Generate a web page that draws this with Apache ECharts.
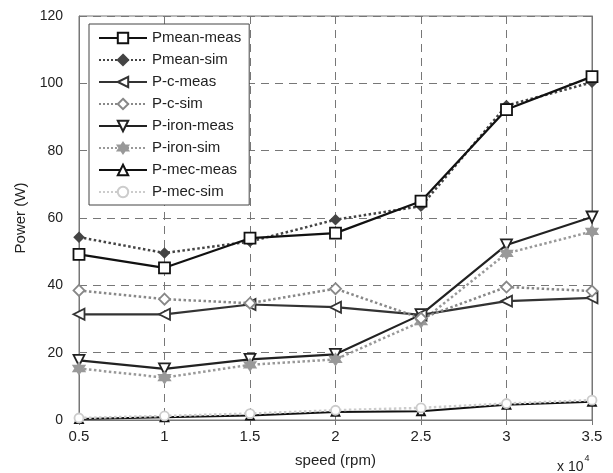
<!DOCTYPE html>
<html><head><meta charset="utf-8">
<script src="https://cdn.jsdelivr.net/npm/echarts@6/dist/echarts.min.js"></script>
<style>html,body{margin:0;padding:0;background:#fff}#c{width:613px;height:473px}</style>
</head><body><div id="c"></div>
<script>
const speeds = [0.5, 1, 1.5, 2, 2.5, 3, 3.5];
const seriesNames = ['Pmean-meas','Pmean-sim','P-c-meas','P-c-sim','P-iron-meas','P-iron-sim','P-mec-meas','P-mec-sim'];
const pmeanMeas = [49.2, 45.2, 54.0, 55.5, 65.0, 92.2, 102.0];
const pmeanSim  = [54.3, 49.6, 53.0, 59.5, 63.5, 93.4, 100.3];
const pcMeas    = [31.4, 31.4, 34.3, 33.5, 31.2, 35.3, 36.3];
const pcSim     = [38.5, 35.9, 34.7, 39.0, 30.2, 39.5, 38.3];
const pironMeas = [17.7, 15.2, 18.0, 19.5, 31.3, 52.0, 60.3];
const pironSim  = [15.3, 12.6, 16.4, 18.0, 29.2, 49.5, 56.0];
const pmecMeas  = [0.3, 0.8, 1.3, 2.4, 2.6, 4.5, 5.4];
const pmecSim   = [0.6, 1.2, 1.9, 2.9, 3.6, 4.9, 5.9];
const yTicks = [0, 20, 40, 60, 80, 100, 120];

const star = 'path://M0,-10 L2.9,-5 L8.66,-5 L5.8,0 L8.66,5 L2.9,5 L0,10 L-2.9,5 L-8.66,5 L-5.8,0 L-8.66,-5 L-2.9,-5 Z';
const FONT = 'Liberation Sans, Arial, sans-serif';

function mk(name, data, color, type, width, symbol, size, rotate, fill) {
  return {
    name: name, type: 'line',
    data: speeds.map((s, i) => [s, data[i]]),
    symbol: symbol, symbolSize: size, symbolRotate: rotate || 0,
    showAllSymbol: true,
    lineStyle: { color: color, width: width, type: type },
    itemStyle: { color: fill || '#fff', borderColor: color, borderWidth: 1.8 },
    emphasis: { disabled: true },
    animation: false, z: 3
  };
}

const series = [
  mk(seriesNames[6], pmecMeas, '#111', 'solid', 2, 'triangle', 8, 0, '#fff'),
  mk(seriesNames[7], pmecSim, '#ccc', 'dotted', 2.5, 'circle', 9, 0, '#fff'),
  mk(seriesNames[4], pironMeas, '#222', 'solid', 2.2, 'triangle', 11, 180, '#fff'),
  mk(seriesNames[5], pironSim, '#999', 'dotted', 2.5, star, 11, 0, '#999'),
  mk(seriesNames[2], pcMeas, '#333', 'solid', 2.2, 'triangle', 11, 90, '#fff'),
  mk(seriesNames[3], pcSim, '#888', 'dotted', 2.5, 'diamond', 11, 0, '#fff'),
  mk(seriesNames[1], pmeanSim, '#444', 'dotted', 2.5, 'diamond', 9, 0, '#444'),
  mk(seriesNames[0], pmeanMeas, '#111', 'solid', 2.2, 'rect', 11, 0, '#fff')
];

const chart = echarts.init(document.getElementById('c'), null, { renderer: 'canvas' });
const axisCommon = {
  axisLine: { show: true, lineStyle: { color: '#777', width: 1 } },
  axisTick: { show: true, inside: true, length: 5, lineStyle: { color: '#777' } }
};
chart.setOption({
  animation: false,
  backgroundColor: '#fff',
  textStyle: { fontFamily: FONT },
  grid: { left: 79, right: 21, top: 16, bottom: 53, show: true, borderColor: '#777', borderWidth: 1 },
  legend: {
    data: seriesNames,
    orient: 'vertical', left: 89, top: 24,
    padding: [6.5, 8, 5.5, 9],
    backgroundColor: '#fff',
    borderColor: '#444', borderWidth: 1,
    itemWidth: 48, itemHeight: 13, itemGap: 7, itemTextGap: 6,
    textStyle: { fontFamily: FONT, fontSize: 15, lineHeight: 15, color: '#222' },
    selectedMode: false
  },
  xAxis: [{
    type: 'value', min: 0.5, max: 3.5, interval: 0.5,
    name: 'speed (rpm)', nameLocation: 'middle', nameGap: 33,
    nameTextStyle: { fontFamily: FONT, fontSize: 15, color: '#222' },
    axisLabel: { fontFamily: FONT, fontSize: 15, color: '#222', margin: 9 },
    splitLine: { show: true, lineStyle: { color: '#777', type: [8, 6], width: 1 } },
    ...axisCommon
  }, {
    type: 'value', min: 0.5, max: 3.5, interval: 0.5, position: 'top',
    axisLabel: { show: false }, splitLine: { show: false }, ...axisCommon
  }],
  yAxis: [{
    type: 'value', min: 0, max: 120, interval: 20,
    name: 'Power (W)', nameLocation: 'middle', nameGap: 49, nameRotate: 90,
    nameTextStyle: { fontFamily: FONT, fontSize: 15, color: '#222' },
    axisLabel: { fontFamily: FONT, fontSize: 14, color: '#222', margin: 16,
      formatter: v => yTicks.includes(v) ? String(v) : '' },
    splitLine: { show: true, lineStyle: { color: '#777', type: [8, 6], width: 1 } },
    ...axisCommon
  }, {
    type: 'value', min: 0, max: 120, interval: 20, position: 'right',
    axisLabel: { show: false }, splitLine: { show: false }, ...axisCommon
  }],
  graphic: [{
    type: 'text', left: 557, top: 460,
    style: { text: 'x 10', fontFamily: FONT, fontSize: 14, fill: '#222' }
  }, {
    type: 'text', left: 584.5, top: 454,
    style: { text: '4', fontFamily: FONT, fontSize: 9, fill: '#222' }
  }],
  series: series
});
</script></body></html>
